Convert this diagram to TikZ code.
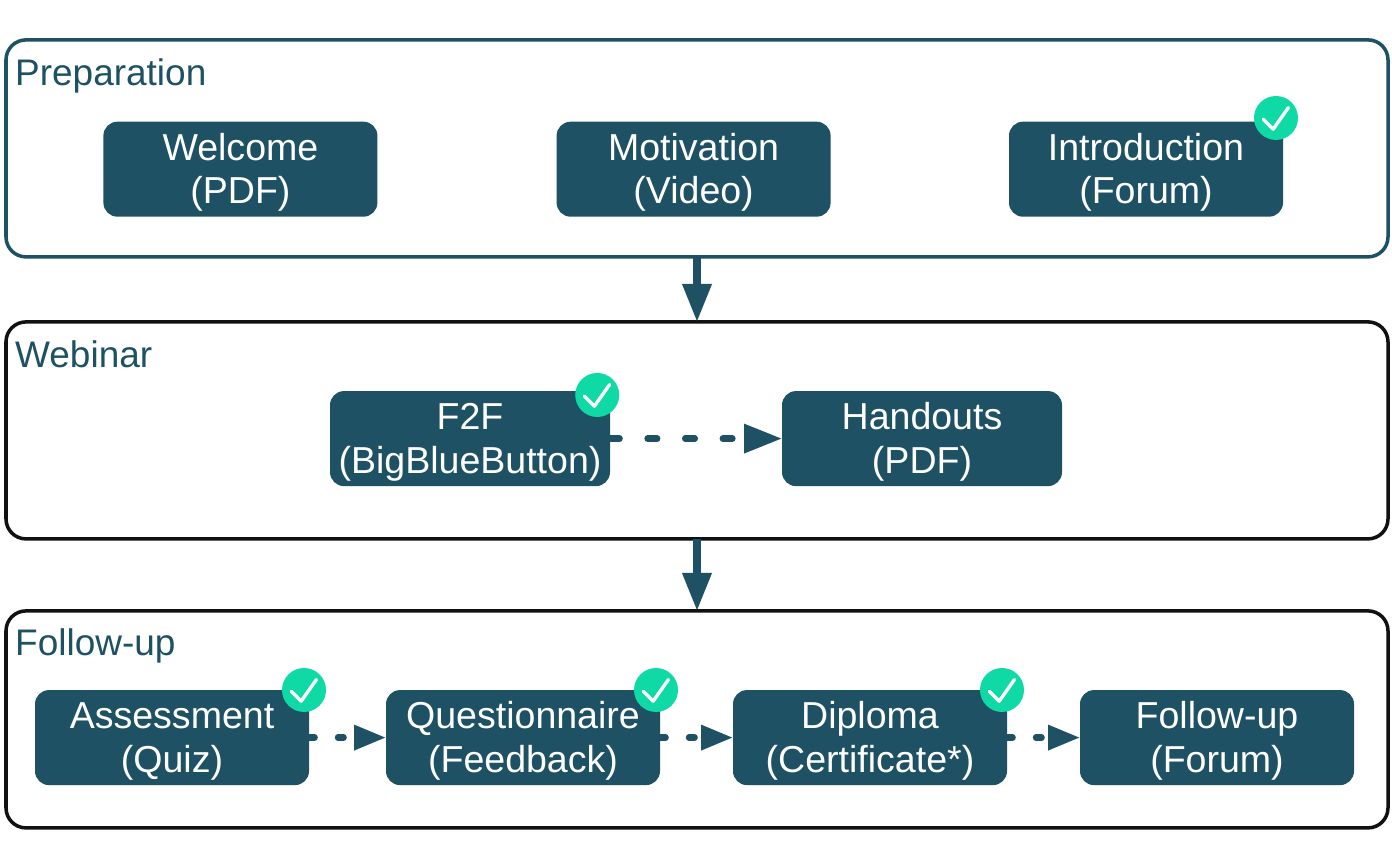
\documentclass[tikz,border=0pt]{standalone}
\usepackage{fontspec}
\setmainfont{Liberation Sans}
\usetikzlibrary{positioning,calc,arrows.meta}
\definecolor{tealbox}{HTML}{1D5163}
\definecolor{tickgreen}{HTML}{0FD9A5}
\definecolor{framedark}{HTML}{111111}

\begin{document}
\begin{tikzpicture}[>=stealth, semithick]
	\tikzstyle{every node}=[outer sep=0pt]
	\tikzstyle{frame}=[draw=framedark,line width=2.5pt,rounded corners=5mm,minimum width=34.55cm,minimum height=5.425cm]
	\tikzstyle{frametitle}=[anchor=base west,text=tealbox,inner sep=0pt,font=\fontsize{26.3}{30}\selectfont]
	\tikzstyle{activity}=[fill=tealbox,text=white,rounded corners=3.5mm,minimum width=6.85cm,minimum height=2.375cm,inner sep=0pt,align=center,text height=55pt,font=\fontsize{26.7}{31.2}\selectfont]
	\tikzstyle{tick}=[circle,fill=tickgreen,minimum size=1.1cm,inner sep=0pt,path picture={\draw[white,line width=2.4pt,line cap=round,line join=round] ($(path picture bounding box.center)+(-.32,-.03)$) -- ($(path picture bounding box.center)+(-.07,-.28)$) -- ($(path picture bounding box.center)+(.31,.26)$);}]
	\tikzstyle{mainflow}=[draw=tealbox,line width=5pt,-{Triangle[length=9.5mm,width=7mm]}]
	\tikzstyle{sideflow}=[draw=tealbox,line width=4.6pt,line cap=round,dash pattern=on 2.4mm off 7mm,-{Triangle[length=9.5mm,width=7mm]}]
	\tikzstyle{shortflow}=[draw=tealbox,line width=4.6pt,line cap=round,dash pattern=on 1.4mm off 5.85mm,-{Triangle[length=8mm,width=6mm]}]
	
	\useasboundingbox (0,0) rectangle (34.8,21.65);
	
	\node [frame,draw=tealbox] (prep) at (17.425,17.94) {};
	\node [frame] (web) at ($(prep)+(0,-7.05)$) {};
	\node [frame] (follow) at ($(web)+(0,-7.225)$) {};
	
	\node [frametitle] (preptitle) at (0.38,19.52) {Preparation};
	\node [frametitle] (webtitle) at (0.38,12.47) {Webinar};
	\node [frametitle] (followtitle) at (0.38,5.27) {Follow-up};
	
	\node [activity] (welcome) at (6.01,17.42) {Welcome\\(PDF)};
	\node [activity] (motivation) at ($(welcome)+(11.33,0)$) {Motivation\\(Video)};
	\node [activity] (intro) at ($(motivation)+(11.31,0)$) {Introduction\\(Forum)};
	
	\node [activity,minimum width=7cm] (f2f) at (11.75,10.685) {F2F\\(BigBlueButton)};
	\node [activity,minimum width=7cm] (handouts) at ($(f2f)+(11.3,0)$) {Handouts\\(PDF)};
	
	\node [activity] (assess) at (4.3,3.21) {Assessment\\(Quiz)};
	\node [activity] (quest) at ($(assess)+(8.775,0)$) {Questionnaire\\(Feedback)};
	\node [activity] (diploma) at ($(quest)+(8.675,0)$) {Diploma\\(Certificate*)};
	\node [activity] (followup) at ($(diploma)+(8.675,0)$) {Follow-up\\(Forum)};
	
	\node [tick] (tickintro) at (31.9,18.7) {};
	\node [tick] (tickf2f) at (14.93,11.775) {};
	\node [tick] (tickassess) at (7.6,4.4) {};
	\node [tick] (tickquest) at (16.4,4.4) {};
	\node [tick] (tickdiploma) at (25.05,4.4) {};
	
	\draw [mainflow] (prep.south) to (web.north);
	\draw [mainflow] (web.south) to (follow.north);
	\draw [sideflow] (f2f) to (handouts);
	\draw [shortflow] (assess) to (quest);
	\draw [shortflow] (quest) to (diploma);
	\draw [shortflow] (diploma) to (followup);
\end{tikzpicture}
\end{document}
